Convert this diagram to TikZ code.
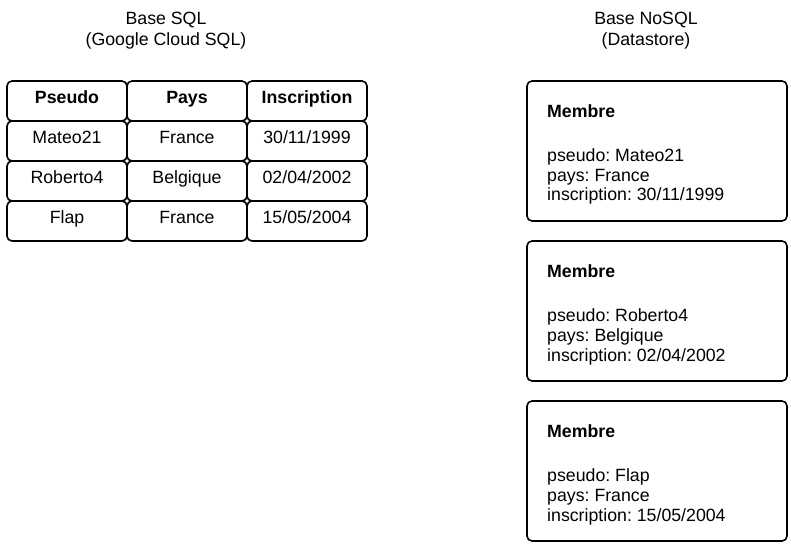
\documentclass[tikz,border=0pt]{standalone}
\usepackage{fontspec}
\setmainfont{Liberation Sans}
\frenchspacing
\begin{document}
\begin{tikzpicture}[x=1bp,y=-1bp,cell/.style={shape=rectangle,draw=black,line width=1.6bp,rounded corners=5bp,minimum width=120bp,minimum height=40bp,inner sep=0,text height=10bp,text depth=4bp,font=\fontsize{17.8}{20}\selectfont},cellH/.style={cell,font=\fontsize{17.8}{20}\selectfont\bfseries},membre/.style={shape=rectangle,draw=black,line width=1.6bp,rounded corners=5bp,minimum width=260bp,minimum height=140bp,inner sep=0},membreT/.style={anchor=base west,align=left,inner sep=0,font=\fontsize{17.8}{20}\selectfont},titre/.style={anchor=base,align=center,inner sep=0,font=\fontsize{17.8}{22}\selectfont}]
\def\dx{120};
\def\dy{40};
\def\dyb{160};

\useasboundingbox (0,0) rectangle (791,547);

%SQL
\node[titre] (tSQL) at (166,46) {Base SQL\\(Google Cloud SQL)};

\node[cellH] (H1) at (67,101) {Pseudo};
\node[cellH] (H2) at (67+\dx,101) {Pays};
\node[cellH] (H3) at (67+2*\dx,101) {Inscription};

\node[cell] (A1) at (67,101+\dy) {Mateo21};
\node[cell] (A2) at (67+\dx,101+\dy) {France};
\node[cell] (A3) at (67+2*\dx,101+\dy) {30/11/1999};

\node[cell] (B1) at (67,101+2*\dy) {Roberto4};
\node[cell] (B2) at (67+\dx,101+2*\dy) {Belgique};
\node[cell] (B3) at (67+2*\dx,101+2*\dy) {02/04/2002};

\node[cell] (C1) at (67,101+3*\dy) {Flap};
\node[cell] (C2) at (67+\dx,101+3*\dy) {France};
\node[cell] (C3) at (67+2*\dx,101+3*\dy) {15/05/2004};

%NOSQL
\node[titre] (tNoSQL) at (646,46) {Base NoSQL\\(Datastore)};

\node[membre] (M1) at (657,151) {};
\node[membreT] (M1t) at (547,201) {\textbf{Membre}\\[24bp]pseudo: Mateo21\\pays: France\\inscription: 30/11/1999};

\node[membre] (M2) at (657,151+\dyb) {};
\node[membreT] (M2t) at (547,201+\dyb) {\textbf{Membre}\\[24bp]pseudo: Roberto4\\pays: Belgique\\inscription: 02/04/2002};

\node[membre] (M3) at (657,151+2*\dyb) {};
\node[membreT] (M3t) at (547,201+2*\dyb) {\textbf{Membre}\\[24bp]pseudo: Flap\\pays: France\\inscription: 15/05/2004};
\end{tikzpicture}
\end{document}
